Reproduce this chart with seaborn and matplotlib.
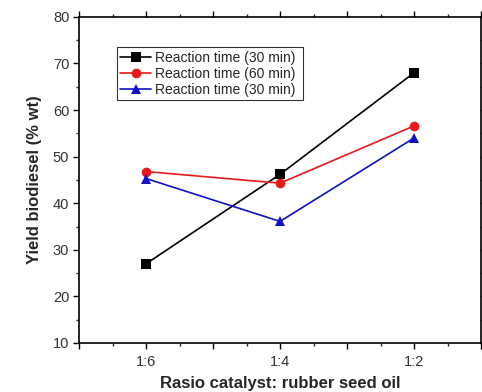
import matplotlib
matplotlib.use("Agg")
import matplotlib.pyplot as plt
import seaborn as sns
import pandas as pd
from matplotlib.ticker import MultipleLocator

categories = ["1:6", "1:4", "1:2"]
series_names = ["Reaction time (30 min)", "Reaction time (60 min)", "Reaction time (30 min) "]
black_vals = [27.0, 46.2, 68.0]
red_vals = [46.8, 44.3, 56.6]
blue_vals = [45.3, 36.1, 54.0]

rows = []
for name, vals in zip(series_names, [black_vals, red_vals, blue_vals]):
    for i, (c, v) in enumerate(zip(categories, vals)):
        rows.append({"pos": i, "cat": c, "series": name, "yield": v})
df = pd.DataFrame(rows)

sns.set_theme(style="ticks")
plt.rcParams["font.family"] = ["Liberation Sans", "DejaVu Sans"]

fig = plt.figure(figsize=(4.82, 3.92), dpi=100)
ax = fig.add_axes([0.164, 0.125, 0.834, 0.832])

palette = {series_names[0]: "black", series_names[1]: "#e8191c", series_names[2]: "#1010c8"}
markers = {series_names[0]: "s", series_names[1]: "o", series_names[2]: "^"}
sns.lineplot(data=df, x="pos", y="yield", hue="series", style="series",
             palette=palette, markers=markers, dashes=False, markersize=7,
             linewidth=1.2, markeredgewidth=0, ax=ax, legend=True, sort=False)

ax.set_xlim(-0.5, 2.5)
ax.set_ylim(10, 80)
ax.xaxis.set_minor_locator(MultipleLocator(0.25))
ax.set_xticks([-0.5, 0, 0.5, 1, 1.5, 2, 2.5])
ax.set_xticklabels(["", "1:6", "", "1:4", "", "1:2", ""])
ax.yaxis.set_major_locator(MultipleLocator(10))
ax.yaxis.set_minor_locator(MultipleLocator(5))
ax.tick_params(axis="both", which="major", direction="out", length=4, width=1.0,
               labelsize=10.5, colors="black", labelcolor="#333333")
ax.tick_params(axis="both", which="minor", direction="out", length=2.5, width=1.0)
ax.tick_params(top=True, right=True, which="both")
ax.tick_params(axis="x", labeltop=False, pad=5)
ax.tick_params(axis="y", labelright=False, pad=3)
for s in ax.spines.values():
    s.set_linewidth(1.2)
    s.set_color("black")

ax.set_xlabel("Rasio catalyst: rubber seed oil", fontsize=12, fontweight="bold", labelpad=5)
ax.set_ylabel("Yield biodiesel (% wt)", fontsize=12, fontweight="bold", labelpad=8)

leg = ax.legend(loc="upper left", bbox_to_anchor=(0.094, 0.907), fontsize=10,
                frameon=True, fancybox=False, edgecolor="black", borderpad=0.25,
                handlelength=2.2, handletextpad=0.3, labelspacing=0.15, borderaxespad=0)
leg.get_frame().set_linewidth(0.8)

fig.savefig("out.png", dpi=100)
